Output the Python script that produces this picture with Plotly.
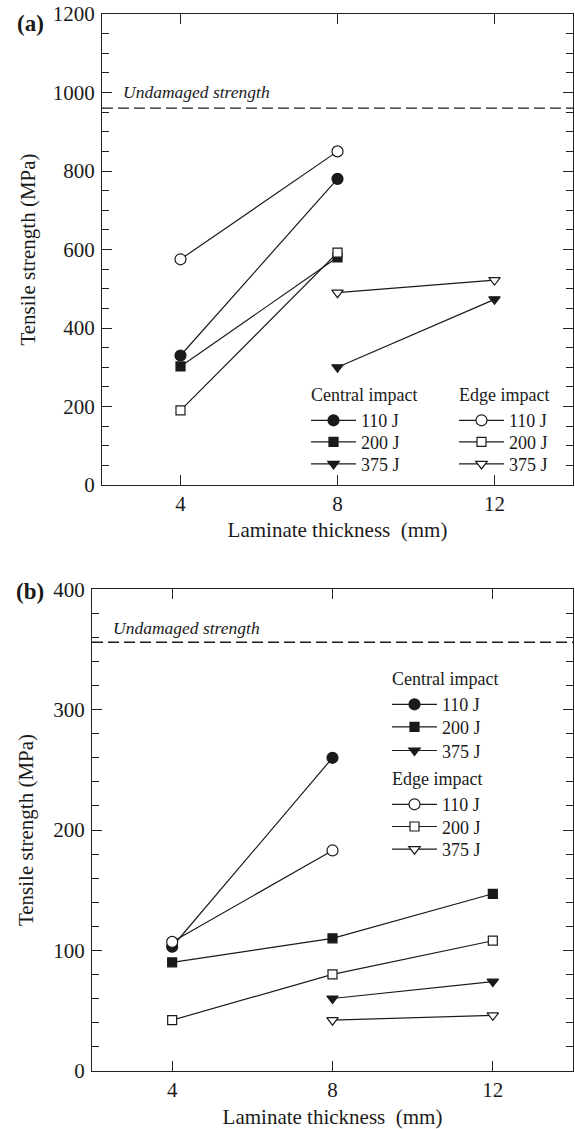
import plotly.graph_objects as go

# ---------------- data: panel (a) ----------------
a_x_4_8 = [4, 8]
a_x_8_12 = [8, 12]
a_central_110 = [330, 780]
a_central_200 = [302, 580]
a_central_375 = [300, 473]
a_edge_110 = [575, 850]
a_edge_200 = [190, 592]
a_edge_375 = [490, 522]
a_undamaged = 960

# ---------------- data: panel (b) ----------------
b_x_4_8 = [4, 8]
b_x_4_12 = [4, 8, 12]
b_x_8_12 = [8, 12]
b_central_110 = [103, 260]
b_central_200 = [90, 110, 147]
b_central_375 = [60, 74]
b_edge_110 = [107, 183]
b_edge_200 = [42, 80, 108]
b_edge_375 = [42, 46]
b_undamaged = 356

x_ticks = [4, 8, 12]
x_tick_text = ["4", "8", "12"]
energy_labels = ["110 J", "200 J", "375 J"]

FONT = "Liberation Serif"
INK = "#1a1a1a"
AX = "#222222"

W, H = 575, 1129


def px_x(p):
    return p / W


def px_y(p):
    return 1 - p / H


fig = go.Figure()

# legend layout (window px): line start x, group title y, item ys
legend_spec = {
    "ac": (312, 392.7, [419, 440.7, 462.7], "Central impact"),
    "ae": (460, 392.7, [419, 440.7, 462.7], "Edge impact"),
    "bc": (393, 676.7, [703, 725.7, 749.3], "Central impact"),
    "be": (393, 776.7, [803.3, 825.3, 848], "Edge impact"),
}
legend_layouts = {}
counter = [0]


def add(x, y, symbol, filled, group, idx, xa, ya):
    counter[0] += 1
    n = counter[0]
    lname = "legend" if n == 1 else f"legend{n}"
    lx, ty, iys, gtitle = legend_spec[group]
    top = (ty - 17) if idx == 0 else (iys[idx] - 17)
    legend_layouts[lname] = dict(
        x=px_x(lx - 6), y=px_y(top), xanchor="left", yanchor="top",
        bgcolor="rgba(0,0,0,0)", borderwidth=0, itemwidth=45,
        font=dict(family=FONT, size=18, color=INK),
        grouptitlefont=dict(family=FONT, size=18, color=INK),
    )
    size = {"circle": 11, "square": 9, "triangle-down": 10}[symbol]
    fig.add_trace(go.Scatter(
        x=x, y=y, mode="lines+markers", name=energy_labels[idx],
        xaxis=xa, yaxis=ya, legend=lname,
        legendgroup=f"{group}{idx}",
        legendgrouptitle_text=gtitle if idx == 0 else None,
        line=dict(color=INK, width=1.2),
        marker=dict(symbol=symbol, size=size,
                    color=INK if filled else "white",
                    line=dict(color=INK, width=1.2)),
    ))


# panel (a)
add(a_x_4_8, a_central_110, "circle", True, "ac", 0, "x", "y")
add(a_x_4_8, a_central_200, "square", True, "ac", 1, "x", "y")
add(a_x_8_12, a_central_375, "triangle-down", True, "ac", 2, "x", "y")
add(a_x_4_8, a_edge_110, "circle", False, "ae", 0, "x", "y")
add(a_x_4_8, a_edge_200, "square", False, "ae", 1, "x", "y")
add(a_x_8_12, a_edge_375, "triangle-down", False, "ae", 2, "x", "y")

# panel (b)
add(b_x_4_8, b_central_110, "circle", True, "bc", 0, "x2", "y2")
add(b_x_4_12, b_central_200, "square", True, "bc", 1, "x2", "y2")
add(b_x_8_12, b_central_375, "triangle-down", True, "bc", 2, "x2", "y2")
add(b_x_4_8, b_edge_110, "circle", False, "be", 0, "x2", "y2")
add(b_x_4_12, b_edge_200, "square", False, "be", 1, "x2", "y2")
add(b_x_8_12, b_edge_375, "triangle-down", False, "be", 2, "x2", "y2")


axis_common = dict(
    showline=True, linecolor=AX, linewidth=1.3, mirror="allticks",
    ticks="inside", ticklen=10, tickwidth=1.2, tickcolor=AX,
    showgrid=False, zeroline=False, automargin=False,
    ticklabeloverflow="allow",
    tickfont=dict(family=FONT, size=21, color=INK),
)


def xaxis(dom, anchor, standoff):
    return dict(axis_common, domain=dom, anchor=anchor, range=[2, 14],
                tickvals=x_ticks, ticktext=x_tick_text,
                title=dict(text="Laminate thickness\u00a0\u00a0(mm)",
                           font=dict(family=FONT, size=21, color=INK), standoff=standoff))


def yaxis(dom, anchor, rng, dtick, mdtick, standoff):
    return dict(axis_common, domain=dom, anchor=anchor, range=rng, dtick=dtick, tick0=0,
                ticklabelstandoff=2,
                minor=dict(dtick=mdtick, ticks="inside", ticklen=7, tickcolor=AX, tickwidth=1.2),
                title=dict(text="Tensile strength (MPa)",
                           font=dict(family=FONT, size=21, color=INK), standoff=standoff))


fig.update_layout(
    template="none",
    width=W, height=H, margin=dict(l=0, r=0, t=0, b=0, pad=0),
    paper_bgcolor="white", plot_bgcolor="white",
    font=dict(family=FONT, color=INK),
    xaxis=xaxis([px_x(102), px_x(573)], "y", 6),
    yaxis=yaxis([px_y(485), px_y(14)], "x", [0, 1200], 200, 50, 11),
    xaxis2=xaxis([px_x(92), px_x(573)], "y2", 20),
    yaxis2=yaxis([px_y(1070.7), px_y(589.3)], "x2", [0, 400], 100, 20, 13),
    showlegend=True,
    **legend_layouts,
)

# undamaged strength dashed lines and labels
for xa, ya, val, ty in [("x", "y", a_undamaged, 1001), ("x2", "y2", b_undamaged, 368)]:
    fig.add_shape(type="line", xref=f"{xa} domain", yref=ya, x0=0, x1=1, y0=val, y1=val,
                  line=dict(color=INK, width=1.3, dash="11px,5px"))
    fig.add_annotation(xref=f"{xa} domain", yref=ya, x=0.04, y=ty, xanchor="left", yanchor="middle",
                       text="<i>Undamaged strength</i>", showarrow=False,
                       font=dict(family=FONT, size=17.5, color=INK))

# panel labels
fig.add_annotation(xref="paper", yref="paper", x=px_x(15), y=px_y(23.5), xanchor="left", yanchor="middle",
                   text="<b>(a)</b>", showarrow=False, font=dict(family=FONT, size=23, color=INK))
fig.add_annotation(xref="paper", yref="paper", x=px_x(14), y=px_y(591), xanchor="left", yanchor="middle",
                   text="<b>(b)</b>", showarrow=False, font=dict(family=FONT, size=23, color=INK))

# remove the browser's default page margin so the figure sits at the window origin
fig.write_html("out.html", config={"displayModeBar": False},
               post_script="document.body.style.margin='0px';")
